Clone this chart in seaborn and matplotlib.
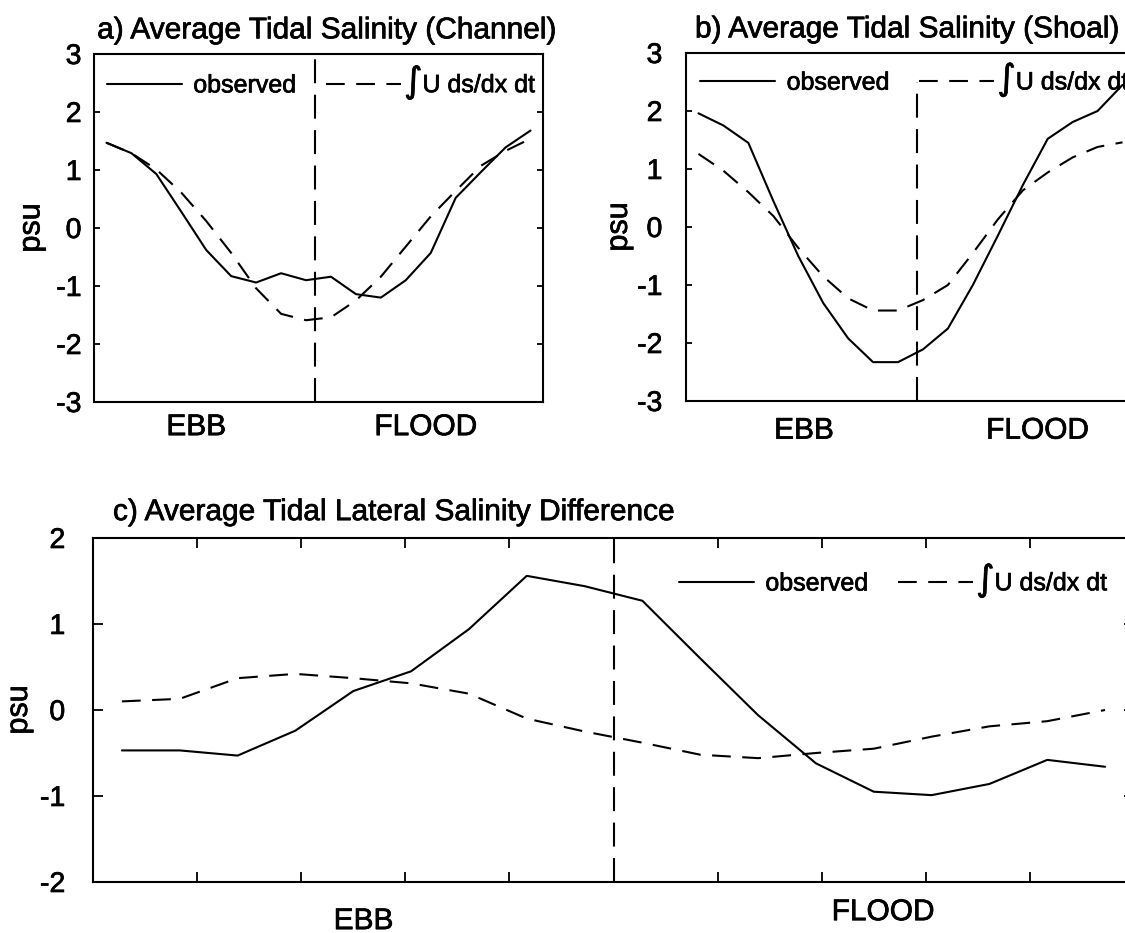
import numpy as np
import matplotlib
matplotlib.use("Agg")
import matplotlib.pyplot as plt
import matplotlib.patheffects as pe
from matplotlib.text import Text
import seaborn as sns

# Tidal phase: 18 bins over one tidal cycle, values at bin centres
n_bins = 18
phase = (np.arange(n_bins) + 0.5) / n_bins

# a) channel
channel_observed = [1.47, 1.29, 0.93, 0.28, -0.38, -0.83, -0.94, -0.78, -0.90,
                    -0.84, -1.14, -1.20, -0.90, -0.43, 0.52, 0.96, 1.39, 1.68]
channel_advective = [1.47, 1.29, 1.01, 0.61, 0.12, -0.43, -1.04, -1.48, -1.59,
                     -1.54, -1.25, -0.84, -0.32, 0.20, 0.64, 1.07, 1.33, 1.54]
# b) shoal
shoal_observed = [1.96, 1.75, 1.45, 0.45, -0.50, -1.31, -1.92, -2.33, -2.33,
                  -2.11, -1.75, -1.00, -0.15, 0.72, 1.52, 1.81, 2.00, 2.45]
shoal_advective = [1.26, 0.97, 0.60, 0.19, -0.36, -0.85, -1.23, -1.44, -1.44,
                   -1.26, -1.00, -0.45, 0.13, 0.63, 0.94, 1.20, 1.38, 1.46]
# c) lateral difference
lateral_observed = [-0.47, -0.47, -0.53, -0.24, 0.22, 0.45, 0.94, 1.56, 1.44,
                    1.27, 0.60, -0.06, -0.62, -0.95, -0.99, -0.86, -0.58, -0.66]
lateral_advective = [0.10, 0.13, 0.37, 0.42, 0.37, 0.31, 0.19, -0.10, -0.25,
                     -0.38, -0.52, -0.56, -0.50, -0.45, -0.31, -0.19, -0.13, 0.00]

# phase of the ebb/flood switch in each panel
switch_phase = [0.492, 0.514, 0.5]

titles = ["a) Average Tidal Salinity (Channel)",
          "b) Average Tidal Salinity (Shoal)",
          "c) Average Tidal Lateral Salinity Difference"]
series_labels = ["observed", r"$\!\!\int$U ds/dx dt"]
phase_labels = ["EBB", "FLOOD"]
y_label = "psu"

sns.set_theme(style="white")
plt.rcParams.update({
    "font.family": ["Liberation Sans", "DejaVu Sans"],
    "mathtext.fontset": "dejavusans",
    "axes.unicode_minus": False,
    "axes.edgecolor": "black",
    "axes.linewidth": 1.5,
    "xtick.color": "black",
    "ytick.color": "black",
    "text.color": "black",
    "axes.labelcolor": "black",
})

W, H = 1125, 933
fig = plt.figure(figsize=(W / 100, H / 100), dpi=100)


def px_axes(left, top, right, bottom):
    return fig.add_axes([left / W, 1 - bottom / H, (right - left) / W, (bottom - top) / H])


ax_a = px_axes(94, 54, 543, 402)
ax_b = px_axes(686, 53, 1135, 401)
ax_c = px_axes(93, 538, 1134, 882)

LW = 1.5
DASHED = (0, (9, 5.5))
VDASH = (0, (11.5, 5.5))
TITLE_FS = 21.5
TICK_FS = 20.5
LEG_FS = 18


def draw_pair(ax, obs, adv):
    sns.lineplot(x=phase, y=obs, ax=ax, color="black", linewidth=LW,
                 label=series_labels[0], sort=False, errorbar=None)
    sns.lineplot(x=phase, y=adv, ax=ax, color="black", linewidth=LW,
                 linestyle=DASHED, label=series_labels[1], sort=False, errorbar=None)


def add_legend(ax, x, y):
    h, l = ax.get_legend_handles_labels()
    ax.legend(h, l, loc="center left", bbox_to_anchor=(x, y), ncol=2,
              frameon=False, fontsize=LEG_FS, handlelength=3.0,
              handletextpad=0.45, columnspacing=1.2, borderpad=0,
              borderaxespad=0)


def phase_text(ax, x, y, s):
    ax.text(x, y, s, transform=ax.get_xaxis_transform(), ha="center",
            va="top", fontsize=TITLE_FS)


# ---- panels a and b ----
for ax, obs, adv, sw, title, tpos, ypad, lab_x, leg_xy, ebb_x, flood_x, lab_y, vtop in [
    (ax_a, channel_observed, channel_advective, switch_phase[0], titles[0],
     (0.007, 1.045), 9, -0.106, (0.029, 0.917), 0.228, 0.739, -0.032, 1.0),
    (ax_b, shoal_observed, shoal_advective, switch_phase[1], titles[1],
     (0.02, 1.045), 17, -0.116, (0.032, 0.922), 0.263, 0.783, -0.045, 0.917),
]:
    draw_pair(ax, obs, adv)
    ax.axvline(sw, ymin=0, ymax=vtop, color="black", linewidth=LW, linestyle=VDASH)
    ax.set_xlim(0, 1)
    ax.set_ylim(-3, 3)
    ax.set_xticks([])
    ax.set_xlabel("")
    ax.set_yticks(range(-3, 4))
    ax.tick_params(axis="y", direction="in", length=4, width=1.3, left=True,
                   right=True, labelsize=TICK_FS, pad=ypad)
    ax.set_ylabel(y_label, fontsize=22)
    ax.yaxis.set_label_coords(lab_x, 0.5)
    ax.text(tpos[0], tpos[1], title, transform=ax.transAxes, ha="left",
            va="baseline", fontsize=TITLE_FS)
    phase_text(ax, ebb_x, lab_y, phase_labels[0])
    phase_text(ax, flood_x, lab_y, phase_labels[1])
    add_legend(ax, *leg_xy)

# ---- panel c ----
draw_pair(ax_c, lateral_observed, lateral_advective)
ax_c.axvline(switch_phase[2], color="black", linewidth=LW, linestyle=VDASH)
ax_c.set_xlim(0, 1)
ax_c.set_ylim(-2, 2)
ax_c.set_xticks(np.arange(1, 10) / 10)
ax_c.set_xticklabels([])
ax_c.set_xlabel("")
ax_c.tick_params(axis="x", direction="in", length=7, width=1.3, top=True, bottom=True)
ax_c.set_yticks(range(-2, 3))
ax_c.tick_params(axis="y", direction="in", length=7, width=1.3, left=True,
                 right=True, labelsize=TICK_FS, pad=20)
ax_c.set_ylabel(y_label, fontsize=22)
ax_c.yaxis.set_label_coords(-0.0567, 0.5)
ax_c.text(0.0192, 1.052, titles[2], transform=ax_c.transAxes, ha="left",
          va="baseline", fontsize=TITLE_FS)
phase_text(ax_c, 0.26, -0.073, phase_labels[0])
phase_text(ax_c, 0.759, -0.047, phase_labels[1])
add_legend(ax_c, 0.563, 0.875)

# slightly heavier lettering, like print
for t in fig.findobj(Text):
    if t.get_text():
        t.set_path_effects([pe.withStroke(linewidth=0.5, foreground="black")])

fig.savefig("out.png", dpi=100)
